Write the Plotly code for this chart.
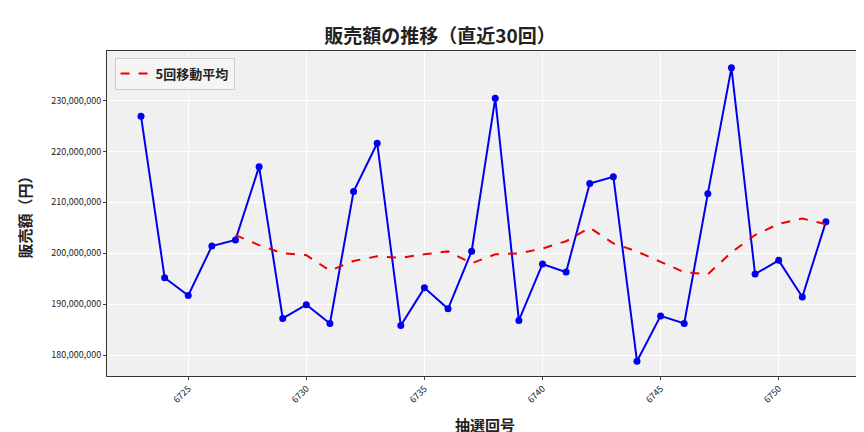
import plotly.graph_objects as go
import pandas as pd

draws = list(range(6723, 6753))
sales = [226.9, 195.2, 191.7, 201.4, 202.6, 217.0, 187.2, 189.9, 186.2, 212.1,
         221.6, 185.8, 193.2, 189.1, 200.4, 230.4, 186.8, 197.9, 196.3, 213.7,
         215.0, 178.8, 187.7, 186.2, 211.7, 236.4, 195.9, 198.6, 191.4, 206.2]
sales = [v * 1e6 for v in sales]
ma = pd.Series(sales).rolling(5).mean().tolist()

F = "Noto Sans CJK JP"
fig = go.Figure()
fig.add_trace(go.Scatter(x=draws, y=sales, mode="lines+markers", showlegend=False,
                         line=dict(color="#0000ee", width=2), marker=dict(size=7, color="#0000ee")))
fig.add_trace(go.Scatter(x=draws, y=ma, mode="lines", name="<b>5回移動平均</b>",
                         line=dict(color="#ee0000", width=2, dash="dash")))
fig.update_layout(
    width=864, height=432, paper_bgcolor="white", plot_bgcolor="#f0f0f0",
    margin=dict(l=99, r=9, t=43, b=64),
    font=dict(family=F, color="#222"),
    title=dict(text="<b>販売額の推移（直近30回）</b>", x=0.5, xanchor="center", y=0.95, font=dict(size=19)),
    legend=dict(x=0.01, y=0.98, xanchor="left", yanchor="top", bgcolor="rgba(245,245,245,0.9)",
                bordercolor="#ccc", borderwidth=1, font=dict(size=13)),
    xaxis=dict(range=[6721.56, 6753.57], tickvals=[6725, 6730, 6735, 6740, 6745, 6750],
               tickangle=-45, tickfont=dict(size=9), gridcolor="white", showline=True,
               linecolor="#333", mirror=True, ticks="outside", ticklen=3, zeroline=False,
               title=dict(text="<b>抽選回号</b>", font=dict(size=15))),
    yaxis=dict(range=[175.9e6, 239.7e6], tickvals=[v * 1e6 for v in range(180, 231, 10)],
               tickformat=",.0f", tickfont=dict(size=9), gridcolor="white", showline=True,
               linecolor="#333", mirror=True, ticks="outside", ticklen=3, zeroline=False,
               title=dict(text="<b>販売額（円）</b>", font=dict(size=15))),
)
fig.write_html("out.html")
